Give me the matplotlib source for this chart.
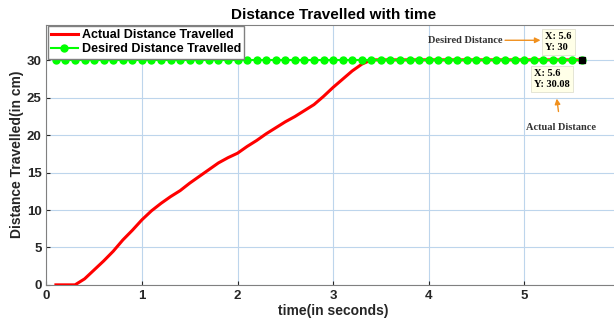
import matplotlib
matplotlib.use('Agg')
import matplotlib.pyplot as plt

plt.rcParams['font.family'] = ['Liberation Sans', 'DejaVu Sans']

# sampled time (s)
time_s = [0.1, 0.2, 0.3, 0.4, 0.5, 0.6, 0.7, 0.8, 0.9, 1.0,
          1.1, 1.2, 1.3, 1.4, 1.5, 1.6, 1.7, 1.8, 1.9, 2.0,
          2.1, 2.2, 2.3, 2.4, 2.5, 2.6, 2.7, 2.8, 2.9, 3.0,
          3.1, 3.2, 3.3, 3.4, 3.5, 3.6, 3.7, 3.8, 3.9, 4.0,
          4.1, 4.2, 4.3, 4.4, 4.5, 4.6, 4.7, 4.8, 4.9, 5.0,
          5.1, 5.2, 5.3, 5.4, 5.5, 5.6]

actual_cm = [0.0, 0.0, 0.0, 0.8, 2.0, 3.2, 4.5, 6.0, 7.3, 8.7,
             9.9, 10.9, 11.8, 12.6, 13.6, 14.5, 15.4, 16.3, 17.0, 17.6,
             18.5, 19.3, 20.2, 21.0, 21.8, 22.5, 23.3, 24.1, 25.2, 26.4,
             27.5, 28.6, 29.5, 30.08, 30.08, 30.08, 30.08, 30.08, 30.08, 30.08,
             30.08, 30.08, 30.08, 30.08, 30.08, 30.08, 30.08, 30.08, 30.08, 30.08,
             30.08, 30.08, 30.08, 30.08, 30.08, 30.08]

desired_cm = [30] * len(time_s)

tip_x = 5.6
tip_desired = 30
tip_actual = 30.08

x_ticks = [0, 1, 2, 3, 4, 5]
y_ticks = [0, 5, 10, 15, 20, 25, 30]

fig = plt.figure(figsize=(6.14, 3.32), dpi=100)
ax = fig.add_axes([0.0755, 0.142, 0.934, 0.784])

ax.plot(time_s, actual_cm, color='#ff0000', lw=2.2, label='Actual Distance Travelled', zorder=3)
ax.plot(time_s, desired_cm, color='#00ff00', lw=1.5, marker='o', ms=5,
        label='Desired Distance Travelled', zorder=4)
ax.plot([tip_x], [tip_desired], marker='s', color='black', ms=4, zorder=6)

ax.set_xlim(0, 6)
ax.set_ylim(0, 34.8)
ax.set_xticks(x_ticks)
ax.set_yticks(y_ticks)
ax.grid(True, color='#bdd5ec', lw=0.8)
ax.set_axisbelow(True)
for s in ax.spines.values():
    s.set_color('#808080')
ax.tick_params(colors='#262626', labelsize=9.5, length=3, direction='in')
for lbl in ax.get_xticklabels() + ax.get_yticklabels():
    lbl.set_fontweight('bold')

ax.set_title('Distance Travelled with time', fontsize=11, fontweight='bold', pad=4)
ax.set_xlabel('time(in seconds)', fontsize=10, fontweight='bold', color='#262626', labelpad=2)
ax.set_ylabel('Distance Travelled(in cm)', fontsize=10, fontweight='bold', color='#262626', labelpad=2)

leg = ax.legend(loc='upper left', borderaxespad=0.1, prop={'weight': 'bold', 'size': 9},
                handlelength=2.2, handletextpad=0.3, borderpad=0.25, labelspacing=0.2,
                fancybox=False, framealpha=1, edgecolor='#808080')

serif = ['Liberation Serif', 'DejaVu Serif']
box = dict(boxstyle='square,pad=0.3', fc='#ffffe8', ec='#e0e0d0', lw=0.6)
ax.text(5.22, 32.5, 'X: 5.6\nY: 30', family=serif, fontsize=7.5, fontweight='bold',
        va='center', ha='left', bbox=box, zorder=7, linespacing=1.3)
ax.text(5.1, 27.5, 'X: 5.6\nY: 30.08', family=serif, fontsize=7.5, fontweight='bold',
        va='center', ha='left', bbox=box, zorder=7, linespacing=1.3)

ax.annotate('Desired Distance', xy=(5.17, 32.7), xytext=(4.77, 32.7),
            family=serif, fontsize=7.5, fontweight='bold', color='#333333',
            va='center', ha='right',
            arrowprops=dict(arrowstyle='-|>', color='#f0901e', lw=1, mutation_scale=8,
                            shrinkA=0, shrinkB=0))
ax.annotate('Actual Distance', xy=(5.34, 24.9), xytext=(5.38, 21.1),
            family=serif, fontsize=7.5, fontweight='bold', color='#333333',
            va='center', ha='center',
            arrowprops=dict(arrowstyle='-|>', color='#f0901e', lw=1, mutation_scale=8,
                            shrinkA=6, shrinkB=0))

fig.savefig('out.png', dpi=100)
